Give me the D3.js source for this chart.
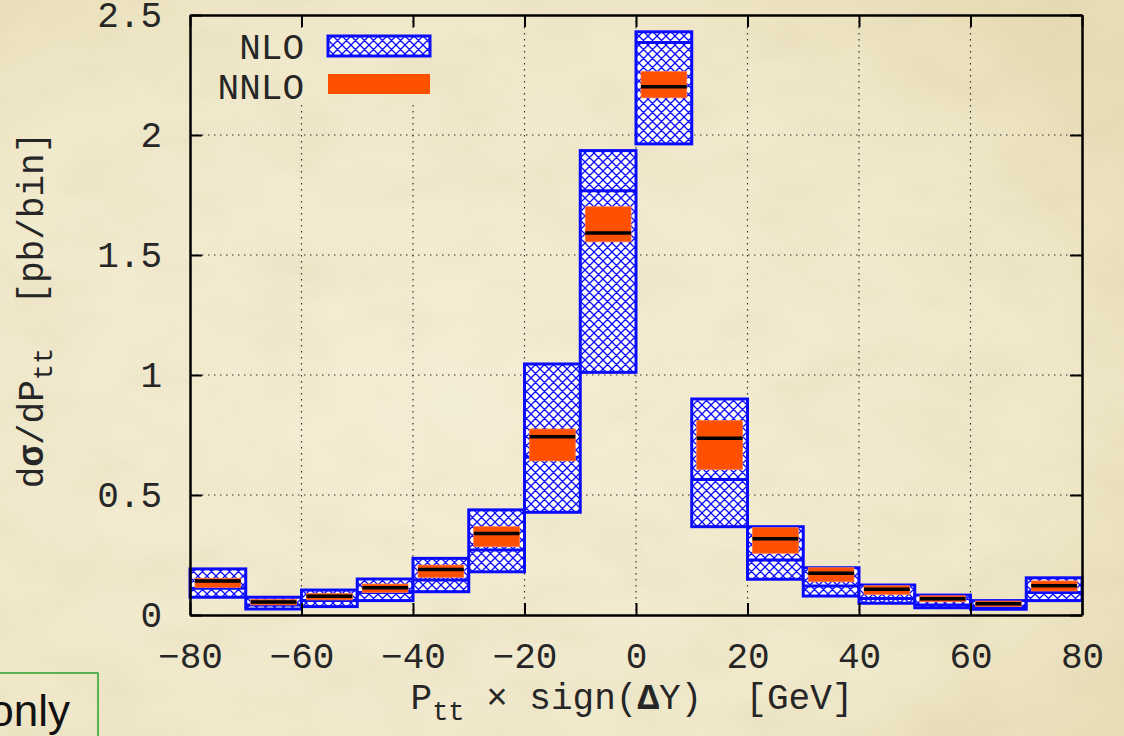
<!DOCTYPE html>
<html>
<head>
<meta charset="utf-8">
<script src="https://cdn.jsdelivr.net/npm/d3@7"></script>
<style>
  body { margin: 0; background: #f0e8c9; }
  svg { display: block; }
</style>
</head>
<body>
<svg id="chart" width="1124" height="736"></svg>
<script>
// bin edges (left edge of each 10 GeV bin)
const binLeft = [-80, -70, -60, -50, -40, -30, -20, -10, 0, 10, 20, 30, 40, 50, 60, 70];
const binWidth = 10;

// NLO band (lo, hi) and central value, pb/bin
const nloLo  = [0.074, 0.025, 0.035, 0.060, 0.097, 0.180, 0.428, 1.011, 1.963, 0.368, 0.149, 0.079, 0.049, 0.030, 0.024, 0.060];
const nloHi  = [0.192, 0.074, 0.104, 0.150, 0.236, 0.438, 1.046, 1.935, 2.430, 0.900, 0.368, 0.197, 0.125, 0.083, 0.060, 0.155];
const nloCen = [0.111, 0.042, 0.060, 0.094, 0.146, 0.271, 0.657, 1.768, 2.385, 0.565, 0.229, 0.121, 0.069, 0.042, 0.035, 0.094];

// NNLO band (lo, hi) and central value
const nnloLo  = [0.115, 0.042, 0.063, 0.094, 0.157, 0.285, 0.642, 1.555, 2.155, 0.607, 0.257, 0.139, 0.086, 0.055, 0.035, 0.100];
const nnloHi  = [0.153, 0.065, 0.090, 0.129, 0.208, 0.368, 0.775, 1.701, 2.264, 0.810, 0.364, 0.197, 0.122, 0.080, 0.058, 0.142];
const nnloCen = [0.142, 0.054, 0.078, 0.114, 0.190, 0.340, 0.743, 1.592, 2.201, 0.736, 0.318, 0.174, 0.107, 0.068, 0.047, 0.122];

const xTicks = [-80, -60, -40, -20, 0, 20, 40, 60, 80];
const yTicks = [0, 0.5, 1, 1.5, 2, 2.5];
const xGrid = [-60, -40, -20, 0, 20, 40, 60];
const yGrid = [0.5, 1, 1.5, 2];
const legendLabels = ["NLO", "NNLO"];

const PLOT = {left: 190, right: 1082, top: 15, bottom: 615};
const MONO = "'Courier New', 'Nimbus Mono PS', FreeMono, 'Liberation Mono', 'DejaVu Sans Mono', monospace";
const BLUE = "#0a0aff";
const ORANGE = "#ff5000";
const INK = "#262626";

const svg = d3.select("#chart");
const defs = svg.append("defs");

// parchment texture
const bgGrad = defs.append("radialGradient").attr("id", "bgGrad")
    .attr("cx", "40%").attr("cy", "55%").attr("r", "75%");
bgGrad.append("stop").attr("offset", "0%").attr("stop-color", "#f5eed6");
bgGrad.append("stop").attr("offset", "70%").attr("stop-color", "#f0e8ca");
bgGrad.append("stop").attr("offset", "100%").attr("stop-color", "#e8dcb5");

const tex = defs.append("filter").attr("id", "tex")
    .attr("x", 0).attr("y", 0).attr("width", "100%").attr("height", "100%");
tex.append("feTurbulence").attr("type", "fractalNoise")
    .attr("baseFrequency", "0.012 0.02").attr("numOctaves", 4).attr("seed", 3);
tex.append("feColorMatrix").attr("type", "matrix")
    .attr("values", "0 0 0 0 0.55  0 0 0 0 0.45  0 0 0 0 0.25  0 0 0 -0.9 0.55");

svg.append("rect").attr("width", 1124).attr("height", 736).attr("fill", "url(#bgGrad)");
svg.append("rect").attr("width", 1124).attr("height", 736)
    .attr("filter", "url(#tex)").attr("opacity", 0.25);

// cross-hatch pattern for NLO
const pat = defs.append("pattern").attr("id", "hatch")
    .attr("patternUnits", "userSpaceOnUse").attr("width", 9).attr("height", 9);
pat.append("rect").attr("width", 9).attr("height", 9).attr("fill", "#ffffff");
pat.append("path").attr("d", "M0,0 L9,9 M9,0 L0,9 M-1,8 L1,10 M8,-1 L10,1 M-1,1 L1,-1 M8,10 L10,8")
    .attr("stroke", BLUE).attr("stroke-width", 1.3);

// scales
const x = d3.scaleLinear().domain([-80, 80]).range([PLOT.left, PLOT.right]);
const y = d3.scaleLinear().domain([0, 2.5]).range([PLOT.bottom, PLOT.top]);

// mask so the grid doesn't run through the key
const mask = defs.append("mask").attr("id", "keyMask");
mask.append("rect").attr("width", 1124).attr("height", 736).attr("fill", "white");
mask.append("rect").attr("x", 200).attr("y", 28).attr("width", 240).attr("height", 76).attr("fill", "black");

// grid
const grid = svg.append("g").attr("mask", "url(#keyMask)");
grid.selectAll("line.gx").data(xGrid).enter().append("line")
    .attr("x1", d => x(d)).attr("x2", d => x(d))
    .attr("y1", PLOT.top).attr("y2", PLOT.bottom);
grid.selectAll("line.gy").data(yGrid).enter().append("line")
    .attr("x1", PLOT.left).attr("x2", PLOT.right)
    .attr("y1", d => y(d)).attr("y2", d => y(d));
grid.selectAll("line")
    .attr("stroke", "#333").attr("stroke-width", 1.2).attr("stroke-dasharray", "1.5,4.5");

const idx = d3.range(binLeft.length);

// NLO boxes
svg.append("g").selectAll("rect").data(idx).enter().append("rect")
    .attr("x", i => x(binLeft[i]))
    .attr("width", i => x(binLeft[i] + binWidth) - x(binLeft[i]))
    .attr("y", i => y(nloHi[i]))
    .attr("height", i => y(nloLo[i]) - y(nloHi[i]))
    .attr("fill", "url(#hatch)")
    .attr("stroke", BLUE).attr("stroke-width", 3);

svg.append("g").selectAll("line").data(idx).enter().append("line")
    .attr("x1", i => x(binLeft[i])).attr("x2", i => x(binLeft[i] + binWidth))
    .attr("y1", i => y(nloCen[i])).attr("y2", i => y(nloCen[i]))
    .attr("stroke", BLUE).attr("stroke-width", 3);

// NNLO boxes, inset a bit from the bin edges
const inset = 5;
svg.append("g").selectAll("rect").data(idx).enter().append("rect")
    .attr("x", i => x(binLeft[i]) + inset)
    .attr("width", i => x(binLeft[i] + binWidth) - x(binLeft[i]) - 2 * inset)
    .attr("y", i => y(nnloHi[i]))
    .attr("height", i => y(nnloLo[i]) - y(nnloHi[i]))
    .attr("fill", ORANGE).attr("stroke", "#ff7a40").attr("stroke-width", 0.8);

svg.append("g").selectAll("line").data(idx).enter().append("line")
    .attr("x1", i => x(binLeft[i]) + inset).attr("x2", i => x(binLeft[i] + binWidth) - inset)
    .attr("y1", i => y(nnloCen[i])).attr("y2", i => y(nnloCen[i]))
    .attr("stroke", "#000").attr("stroke-width", 3.5);

// axes: ticks point inwards, labels only on bottom/left
const fmtX = d => d < 0 ? "\u2212" + Math.abs(d) : String(d);
const axB = svg.append("g").attr("transform", `translate(0,${PLOT.bottom})`)
    .call(d3.axisBottom(x).tickValues(xTicks).tickFormat(fmtX).tickSizeInner(-12).tickSizeOuter(0).tickPadding(27));
const axT = svg.append("g").attr("transform", `translate(0,${PLOT.top})`)
    .call(d3.axisTop(x).tickValues(xTicks).tickFormat("").tickSizeInner(-12).tickSizeOuter(0));
const axL = svg.append("g").attr("transform", `translate(${PLOT.left},0)`)
    .call(d3.axisLeft(y).tickValues(yTicks).tickFormat(d3.format("")).tickSizeInner(-12).tickSizeOuter(0).tickPadding(28));
const axR = svg.append("g").attr("transform", `translate(${PLOT.right},0)`)
    .call(d3.axisRight(y).tickValues(yTicks).tickFormat("").tickSizeInner(-12).tickSizeOuter(0));

[axB, axT, axL, axR].forEach(function(a){
    a.select(".domain").attr("stroke", "#000").attr("stroke-width", 2.5);
    a.selectAll(".tick line").attr("stroke", "#000").attr("stroke-width", 2);
    a.selectAll("text").attr("fill", INK)
        .style("font-family", MONO).style("font-size", "36px");
});

// axis titles
const yTitle = svg.append("text")
    .attr("transform", "translate(43,310) rotate(-90)")
    .attr("text-anchor", "middle")
    .style("font-family", MONO).style("font-size", "36px").style("white-space", "pre")
    .attr("fill", INK);
yTitle.append("tspan").text("d");
yTitle.append("tspan").text("\u03c3").attr("font-weight", "bold");
yTitle.append("tspan").text("/dP");
yTitle.append("tspan").text("tt").attr("dy", 9).style("font-size", "27px");
yTitle.append("tspan").text("  [pb/bin]").attr("dy", -9);

const xTitle = svg.append("text")
    .attr("x", 632).attr("y", 709)
    .attr("text-anchor", "middle")
    .style("font-family", MONO).style("font-size", "36px").style("white-space", "pre")
    .attr("fill", INK);
xTitle.append("tspan").text("P");
xTitle.append("tspan").text("tt").attr("dy", 11).style("font-size", "27px");
xTitle.append("tspan").text(" \u00d7 sign(").attr("dy", -11);
xTitle.append("tspan").text("\u0394").attr("font-weight", "bold");
xTitle.append("tspan").text("Y)  [GeV]");

// key
const key = svg.append("g");
key.selectAll("text").data(legendLabels).enter().append("text")
    .attr("x", 304).attr("y", (d, i) => 46 + i * 40)
    .attr("dy", "0.35em").attr("text-anchor", "end")
    .style("font-family", MONO).style("font-size", "36px").attr("fill", INK)
    .text(d => d);
key.append("rect").attr("x", 328).attr("y", 36).attr("width", 102).attr("height", 20)
    .attr("fill", "url(#hatch)").attr("stroke", BLUE).attr("stroke-width", 3);
key.append("rect").attr("x", 328).attr("y", 74).attr("width", 102).attr("height", 20)
    .attr("fill", ORANGE);

// stray slide box bottom-left
svg.append("rect").attr("x", -10).attr("y", 673).attr("width", 108).attr("height", 80)
    .attr("fill", "none").attr("stroke", "#2aa02a").attr("stroke-width", 1.5);
svg.append("text").attr("x", 70).attr("y", 726).attr("text-anchor", "end")
    .style("font-family", "'Liberation Sans', Arial, sans-serif").style("font-size", "44px")
    .attr("fill", "#111").text("only");
</script>
</body>
</html>
